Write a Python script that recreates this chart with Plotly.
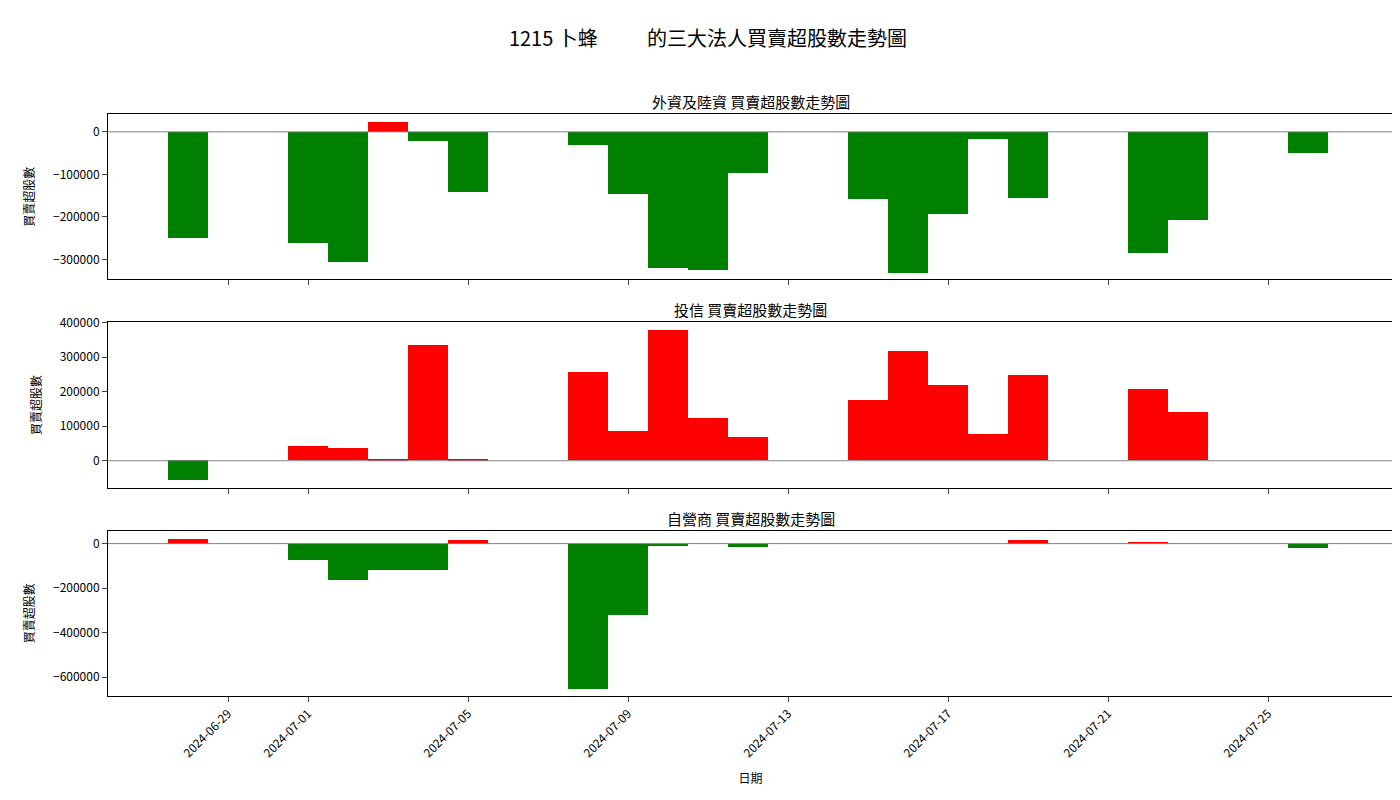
import plotly.graph_objs as go
from plotly.subplots import make_subplots

dates = ['2024-06-28', '2024-07-01', '2024-07-02', '2024-07-03', '2024-07-04', '2024-07-05',
         '2024-07-08', '2024-07-09', '2024-07-10', '2024-07-11', '2024-07-12',
         '2024-07-15', '2024-07-16', '2024-07-17', '2024-07-18', '2024-07-19',
         '2024-07-22', '2024-07-23', '2024-07-26']
foreign = [-250000, -262000, -307000, 24000, -21000, -142000,
           -31000, -147000, -321000, -326000, -97000,
           -158000, -333000, -194000, -17000, -156000,
           -284000, -208000, -50000]
trust = [-58000, 43000, 37000, 3000, 335000, 3000,
         257000, 84000, 378000, 124000, 69000,
         176000, 317000, 219000, 75000, 248000,
         208000, 141000, 0]
dealer = [22000, -72000, -161000, -116000, -116000, 18000,
          -654000, -318000, -9000, 0, -13000,
          0, 0, 0, 0, 18000,
          9000, 0, -18000]
tick_dates = ['2024-06-29', '2024-07-01', '2024-07-05', '2024-07-09', '2024-07-13',
              '2024-07-17', '2024-07-21', '2024-07-25']

titles = ['外資及陸資 買賣超股數走勢圖', '投信 買賣超股數走勢圖', '自營商 買賣超股數走勢圖']
fig = make_subplots(rows=3, cols=1, shared_xaxes=True, vertical_spacing=0.074,
                    subplot_titles=titles)

series = [foreign, trust, dealer]
for i, vals in enumerate(series):
    colors = ['red' if v > 0 else 'green' for v in vals]
    fig.add_trace(go.Bar(x=dates, y=vals, marker_color=colors, marker_line_width=0,
                         width=86400000, showlegend=False), row=i + 1, col=1)
    fig.add_hline(y=0, line_color='gray', line_width=1, row=i + 1, col=1)

ranges = [[-347000, 42000], [-78000, 401000], [-685000, 58000]]
dticks = [100000, 100000, 200000]
for i in range(3):
    fig.update_yaxes(range=ranges[i], dtick=dticks[i], tickformat='d',
                     title_text='買賣超股數', title_font_size=12,
                     showgrid=False, zeroline=False, showline=True, mirror=True,
                     linecolor='black', ticks='outside', row=i + 1, col=1)
    fig.update_xaxes(range=['2024-06-26', '2024-07-28 03:00'], showgrid=False,
                     showline=True, mirror=True, linecolor='black', ticks='outside',
                     tickvals=tick_dates, tickformat='%Y-%m-%d', row=i + 1, col=1)
fig.update_xaxes(tickangle=-45, title_text='日期', title_font_size=12, row=3, col=1)

for ann in fig.layout.annotations:
    ann.font = dict(size=15, color='black')

fig.update_layout(title=dict(text='1215 卜蜂           的三大法人買賣超股數走勢圖', x=0.5, y=0.97,
                             font=dict(size=20, color='black')),
                  font=dict(family='Noto Sans CJK TC, DejaVu Sans', size=12, color='black'),
                  plot_bgcolor='white', paper_bgcolor='white', bargap=0,
                  width=1400, height=800,
                  margin=dict(l=100, r=15, t=106, b=112))
fig.write_html('out.html')
